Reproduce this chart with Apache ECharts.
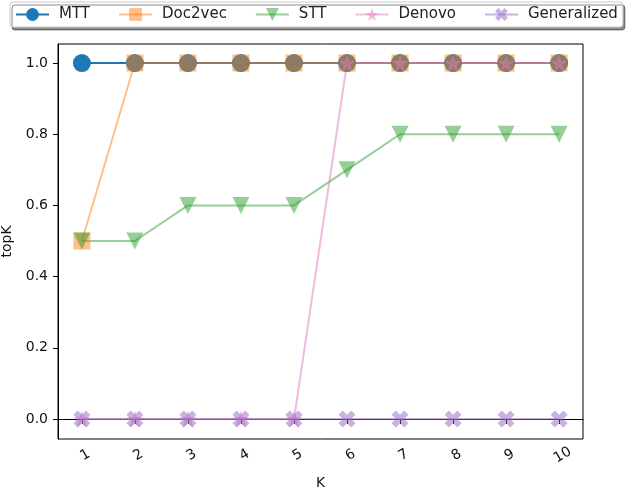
<!DOCTYPE html>
<html><head><meta charset="utf-8">
<script src="https://cdn.jsdelivr.net/npm/echarts@6/dist/echarts.min.js"></script>
<style>html,body{margin:0;padding:0;background:#fff}#c{width:628px;height:490px}</style>
</head><body><div id="c"></div>
<script>
const kValues = [1,2,3,4,5,6,7,8,9,10];
const yTicks = [0,0.2,0.4,0.6,0.8,1.0];
const seriesNames = ['MTT','Doc2vec','STT','Denovo','Generalized'];
const mtt = [1,1,1,1,1,1,1,1,1,1];
const doc2vec = [0.5,1,1,1,1,1,1,1,1,1];
const stt = [0.5,0.5,0.6,0.6,0.6,0.7,0.8,0.8,0.8,0.8];
const denovo = [0,0,0,0,0,1,1,1,1,1];
const generalized = [0,0,0,0,0,0,0,0,0,0];

const STAR = 'path://M50 0L61.23 34.55L97.55 34.55L68.17 55.9L79.39 90.45L50 69.1L20.61 90.45L31.83 55.9L2.45 34.55L38.77 34.55Z';
const XMARK = 'path://M0 2.5L2.5 0L5 2.5L7.5 0L10 2.5L7.5 5L10 7.5L7.5 10L5 7.5L2.5 10L0 7.5L2.5 5Z';
const FONT = 'DejaVu Sans';

function mk(name, vals, color, symbol, size, rot){
  return {
    name, type:'line', data: kValues.map((k,i)=>[k, vals[i]]),
    symbol, symbolSize:size, symbolRotate: rot||0, showSymbol:true,
    lineStyle:{color, width:2}, itemStyle:{color, borderWidth:0},
    emphasis:{disabled:true}, animation:false
  };
}
const chart = echarts.init(document.getElementById('c'), null, {renderer:'canvas'});
chart.setOption({
  animation:false,
  backgroundColor:'#fff',
  textStyle:{fontFamily:FONT},
  legend:{
    left:10, top:2, width:620, padding:[5,5,5,5], itemWidth:33, itemHeight:16, itemGap:28,
    backgroundColor:'#fff', borderColor:'#cccccc', borderWidth:1, borderRadius:3,
    shadowColor:'rgba(0,0,0,0.45)', shadowOffsetX:2, shadowOffsetY:3, shadowBlur:0,
    textStyle:{fontFamily:FONT, fontSize:15, color:'#222', padding:[0,0,0,5]},
    data: seriesNames
  },
  grid:{left:58, right:45, top:44, bottom:51, show:true, borderColor:'#000', borderWidth:1,
        containLabel:false, outerBoundsMode:'none'},
  xAxis:{
    type:'value', min:0.55, max:10.45,
    name:'K', nameLocation:'middle', nameGap:37,
    nameTextStyle:{fontFamily:FONT, fontSize:14, color:'#111'},
    axisLine:{show:true, lineStyle:{color:'#000'}},
    axisTick:{show:true, length:5, customValues:kValues, lineStyle:{color:'#000'}},
    axisLabel:{customValues:kValues, rotate:30, align:'center', verticalAlign:'top',
               fontFamily:FONT, fontSize:14, color:'#111', margin:10},
    splitLine:{show:false}
  },
  yAxis:{
    type:'value', min:-0.056, max:1.0534,
    name:'topK', nameLocation:'middle', nameGap:43,
    nameTextStyle:{fontFamily:FONT, fontSize:14, color:'#111'},
    axisLine:{show:true, lineStyle:{color:'#000'}},
    axisTick:{show:true, length:5, customValues:yTicks, lineStyle:{color:'#000'}},
    axisLabel:{customValues:yTicks, formatter:v=>v.toFixed(1), fontFamily:FONT, fontSize:14, color:'#111', margin:10},
    splitLine:{show:false}
  },
  series:[
    mk('MTT', mtt, '#1f77b4', 'circle', 18),
    mk('Doc2vec', doc2vec, 'rgba(255,127,14,0.5)', 'rect', 17),
    mk('STT', stt, 'rgba(44,160,44,0.5)', 'triangle', 17, 180),
    mk('Denovo', denovo, 'rgba(227,119,194,0.5)', STAR, 17),
    mk('Generalized', generalized, 'rgba(148,103,189,0.5)', XMARK, 17)
  ]
});
</script></body></html>
